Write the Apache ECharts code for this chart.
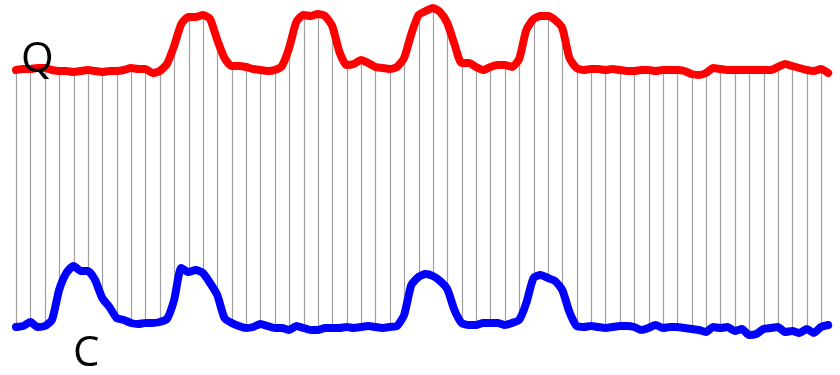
<!DOCTYPE html>
<html>
<head>
<meta charset="utf-8">
<script src="https://cdn.jsdelivr.net/npm/echarts@6/dist/echarts.min.js"></script>
<style>html,body{margin:0;padding:0;background:#fff;}#chart{width:840px;height:375px;}</style>
</head>
<body>
<div id="chart"></div>
<script>
// Samples every half tick step (tick = one vertical connector). Values are depth units (0 = top).
const sampleStep = 0.5;
const qValues = [
  70,69,69,68,68,70,71,71,72,71,
  70,71,72,71,71,70,68,69,69,73,
  71,64,46,24,17,17,15,19,40,58,
  66,66,67,69,70,71,70,66,48,22,
  15,16,14,16,26,52,65,64,60,63,
  67,68,69,67,58,34,15,11,8,12,
  23,44,63,63,67,70,67,65,65,67,
  59,30,19,16,16,20,28,58,68,70,
  69,69,70,69,70,71,71,70,70,71,
  70,70,70,71,74,75,73,68,69,70,
  70,70,70,70,70,70,67,64,66,68,
  70,71,69,73
];
const cValues = [
  327,326,322,327,326,320,290,273,266,271,
  271,280,298,307,318,320,323,324,323,323,
  322,319,300,268,272,270,273,283,295,318,
  323,326,328,327,324,326,328,328,330,326,
  328,330,330,328,328,328,327,328,327,326,
  327,328,327,326,315,285,277,274,276,281,
  289,310,323,325,325,323,323,323,325,323,
  320,303,278,275,278,281,290,312,326,327,
  326,327,328,327,326,326,327,330,328,325,
  328,327,327,328,329,330,332,327,328,327,
  331,329,335,334,329,328,327,332,331,333,
  329,333,327,325
];
const tickCount = 57;
const labels = { top: 'Q', bottom: 'C' };

const qData = qValues.map((v, i) => [i * sampleStep, v]);
const cData = cValues.map((v, i) => [i * sampleStep, v]);
const connectors = [];
for (let k = 0; k < tickCount; k++) {
  const idx = Math.round(k / sampleStep);
  connectors.push([k, qValues[idx], cValues[idx]]);
}

const chart = echarts.init(document.getElementById('chart'), null, { renderer: 'canvas' });
chart.setOption({
  animation: false,
  backgroundColor: '#ffffff',
  grid: { left: 16, right: 4.625, top: 0, bottom: 0 },
  xAxis: { type: 'value', min: 0, max: tickCount, show: false },
  yAxis: { type: 'value', min: 0, max: 375, inverse: true, show: false },
  series: [
    {
      type: 'custom',
      z: 1,
      data: connectors,
      renderItem: function (params, api) {
        const p1 = api.coord([api.value(0), api.value(1)]);
        const p2 = api.coord([api.value(0), api.value(2)]);
        return {
          type: 'line',
          shape: { x1: Math.round(p1[0]) + 0.5, y1: p1[1], x2: Math.round(p2[0]) + 0.5, y2: p2[1] },
          style: { stroke: '#a0a0a0', lineWidth: 1.2 }
        };
      }
    },
    {
      type: 'line', z: 3, data: qData, showSymbol: false, clip: false, smooth: 0.2,
      lineStyle: { color: '#ff0000', width: 8, cap: 'round', join: 'round' }
    },
    {
      type: 'line', z: 3, data: cData, showSymbol: false, clip: false, smooth: 0.2,
      lineStyle: { color: '#0000ff', width: 8, cap: 'round', join: 'round' }
    }
  ],
  graphic: [
    { type: 'text', z: 100, left: 21, top: 39,
      style: { text: labels.top, font: '42px "Open Sans", sans-serif', fill: '#000000' } },
    { type: 'text', z: 100, left: 73, top: 333,
      style: { text: labels.bottom, font: '42px "Open Sans", sans-serif', fill: '#000000' } }
  ]
});
</script>
</body>
</html>
